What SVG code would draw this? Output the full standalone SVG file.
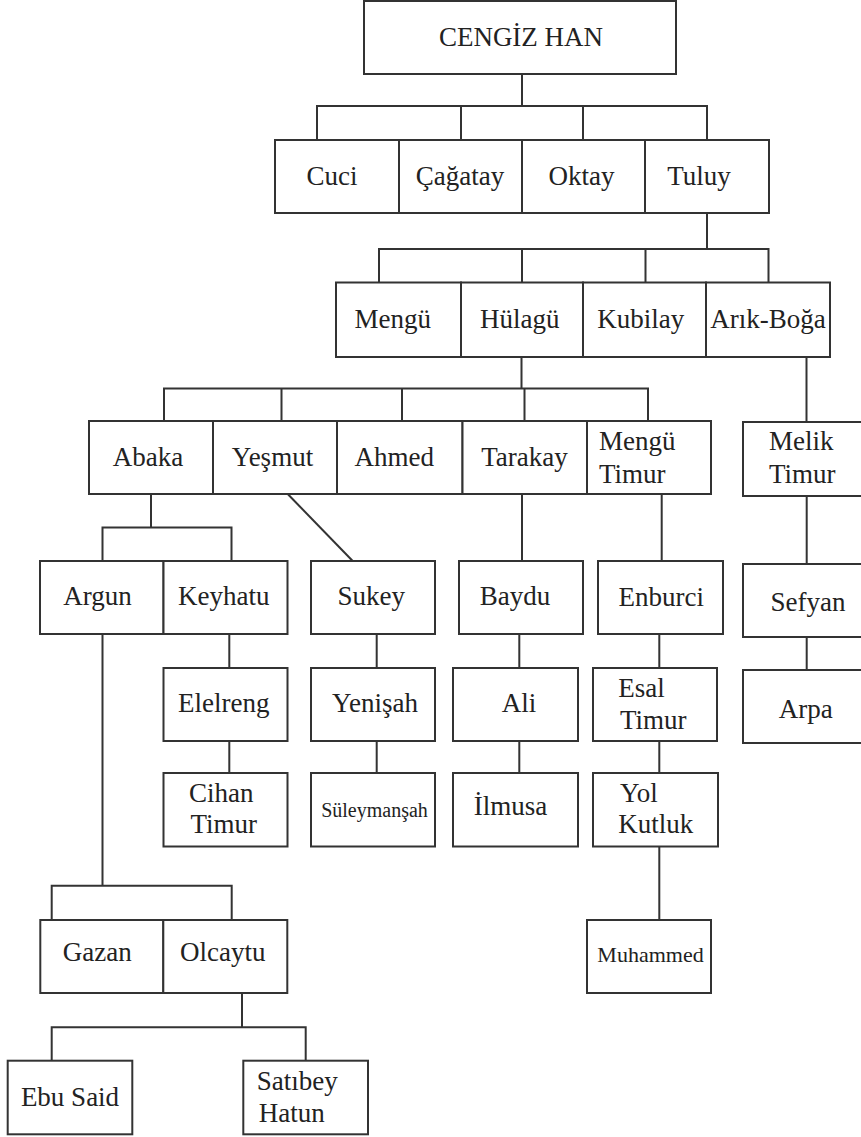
<svg xmlns="http://www.w3.org/2000/svg" width="861" height="1137" viewBox="0 0 861 1137" font-family="Liberation Serif, DejaVu Serif, serif">
<style>
rect{fill:#fff;stroke:#333;stroke-width:2}
.c path{fill:none;stroke:#333;stroke-width:2}
text{font-size:27px;fill:#222}
.m{text-anchor:middle}
.s{font-size:20px}
.s2{font-size:22px}
</style>
<rect x="0" y="0" width="861" height="1137" style="fill:#fff;stroke:none"/>
<g class="c" id="connectors">
<path d="M522 74V106M317 140V106H707V140M461 106V140M583 106V140"/>
<path d="M707 213V249M379 282.5V249H768.5V282.5M522 249V282.5M645.5 249V282.5"/>
<path d="M521.5 357V388.5M164 421V388.5H648V421M281.5 388.5V421M402 388.5V421M524.5 388.5V421"/>
<path d="M806.5 357V422"/>
<path d="M151 494V527.5M102.5 561V527.5H231.5V561"/>
<path d="M287.7 494L352.7 561"/>
<path d="M522 494V561M661.7 494V561M806.7 496V564"/>
<path d="M102.5 634V885.7M51.7 920V885.7H231.7V920"/>
<path d="M229.3 634V668M229.3 741V773M376.7 634V668M376.7 741V773M519.3 634V668M519.3 741V773M659.3 634V668M659.3 741V773M659.3 846.7V920M806.7 637V670"/>
<path d="M242 993V1027.3M51.7 1060.7V1027.3H305.7V1060.7"/>
</g>
<g id="n-cengiz"><rect x="364" y="1" width="312" height="73"/><text class="m" x="521" y="46">CENGİZ HAN</text></g>
<g id="n-cuci"><rect x="275" y="140" width="124" height="73"/><text class="m" x="332" y="185">Cuci</text></g>
<g id="n-cagatay"><rect x="399" y="140" width="123" height="73"/><text class="m" x="460" y="185">Çağatay</text></g>
<g id="n-oktay"><rect x="522" y="140" width="123" height="73"/><text class="m" x="581.5" y="185">Oktay</text></g>
<g id="n-tuluy"><rect x="645" y="140" width="124" height="73"/><text class="m" x="699" y="185">Tuluy</text></g>
<g id="n-mengu"><rect x="336" y="282.5" width="125" height="74.5"/><text class="m" x="392.7" y="328">Mengü</text></g>
<g id="n-hulagu"><rect x="461" y="282.5" width="122" height="74.5"/><text class="m" x="519.7" y="328">Hülagü</text></g>
<g id="n-kubilay"><rect x="583" y="282.5" width="123" height="74.5"/><text class="m" x="640.7" y="328">Kubilay</text></g>
<g id="n-arikboga"><rect x="706" y="282.5" width="124" height="74.5"/><text class="m" x="768" y="328">Arık-Boğa</text></g>
<g id="n-abaka"><rect x="89" y="421" width="124" height="73"/><text class="m" x="148" y="466">Abaka</text></g>
<g id="n-yesmut"><rect x="213" y="421" width="124" height="73"/><text class="m" x="272.5" y="466">Yeşmut</text></g>
<g id="n-ahmed"><rect x="337" y="421" width="125.5" height="73"/><text class="m" x="394.2" y="466">Ahmed</text></g>
<g id="n-tarakay"><rect x="462.5" y="421" width="124.5" height="73"/><text class="m" x="524.5" y="466">Tarakay</text></g>
<g id="n-mengutimur"><rect x="587" y="421" width="124" height="73"/><text x="599" y="450">Mengü</text><text x="599" y="483.3">Timur</text></g>
<g id="n-meliktimur"><rect x="743" y="422" width="125" height="74"/><text x="769" y="450">Melik</text><text x="769" y="483.3">Timur</text></g>
<g id="n-argun"><rect x="40" y="561" width="123.5" height="73"/><text class="m" x="97.5" y="605">Argun</text></g>
<g id="n-keyhatu"><rect x="163.5" y="561" width="124" height="73"/><text class="m" x="223.7" y="605">Keyhatu</text></g>
<g id="n-sukey"><rect x="311" y="561" width="124" height="73"/><text class="m" x="371.3" y="605">Sukey</text></g>
<g id="n-baydu"><rect x="459" y="561" width="124" height="73"/><text class="m" x="515" y="605">Baydu</text></g>
<g id="n-enburci"><rect x="598" y="561" width="125" height="73"/><text class="m" x="661.3" y="606">Enburci</text></g>
<g id="n-sefyan"><rect x="743" y="564" width="125" height="73"/><text class="m" x="808" y="610.7">Sefyan</text></g>
<g id="n-elelreng"><rect x="163.5" y="668" width="124" height="73"/><text class="m" x="223.8" y="712.3">Elelreng</text></g>
<g id="n-yenisah"><rect x="311" y="668" width="124" height="73"/><text class="m" x="375" y="712.3">Yenişah</text></g>
<g id="n-ali"><rect x="453" y="668" width="125" height="73"/><text class="m" x="519" y="711.7">Ali</text></g>
<g id="n-esaltimur"><rect x="593" y="668" width="124" height="73"/><text x="618.3" y="696.7">Esal</text><text x="620" y="729.3">Timur</text></g>
<g id="n-arpa"><rect x="743" y="670" width="125" height="73"/><text class="m" x="805.7" y="718">Arpa</text></g>
<g id="n-cihantimur"><rect x="163.5" y="773" width="124" height="73.5"/><text x="189" y="801.7">Cihan</text><text x="190.5" y="833.3">Timur</text></g>
<g id="n-suleymansah"><rect x="311" y="773" width="124" height="73.5"/><text class="m s" x="374.5" y="816.7">Süleymanşah</text></g>
<g id="n-ilmusa"><rect x="453" y="773" width="125" height="73.5"/><text class="m" x="510.5" y="815">İlmusa</text></g>
<g id="n-yolkutluk"><rect x="593" y="773" width="125" height="73.5"/><text x="620" y="801.7">Yol</text><text x="618.3" y="833.3">Kutluk</text></g>
<g id="n-gazan"><rect x="40.3" y="920" width="123" height="73"/><text class="m" x="97.3" y="961">Gazan</text></g>
<g id="n-olcaytu"><rect x="163.3" y="920" width="124" height="73"/><text class="m" x="222.8" y="961">Olcaytu</text></g>
<g id="n-muhammed"><rect x="587" y="920" width="124" height="73"/><text class="m s2" x="650.5" y="961.7">Muhammed</text></g>
<g id="n-ebusaid"><rect x="7.7" y="1060.7" width="124.6" height="73.6"/><text class="m" x="70" y="1105.7">Ebu Said</text></g>
<g id="n-satibeyhatun"><rect x="243.3" y="1060.7" width="124.7" height="73.6"/><text x="256.7" y="1090">Satıbey</text><text x="258.7" y="1121.7">Hatun</text></g>
</svg>
